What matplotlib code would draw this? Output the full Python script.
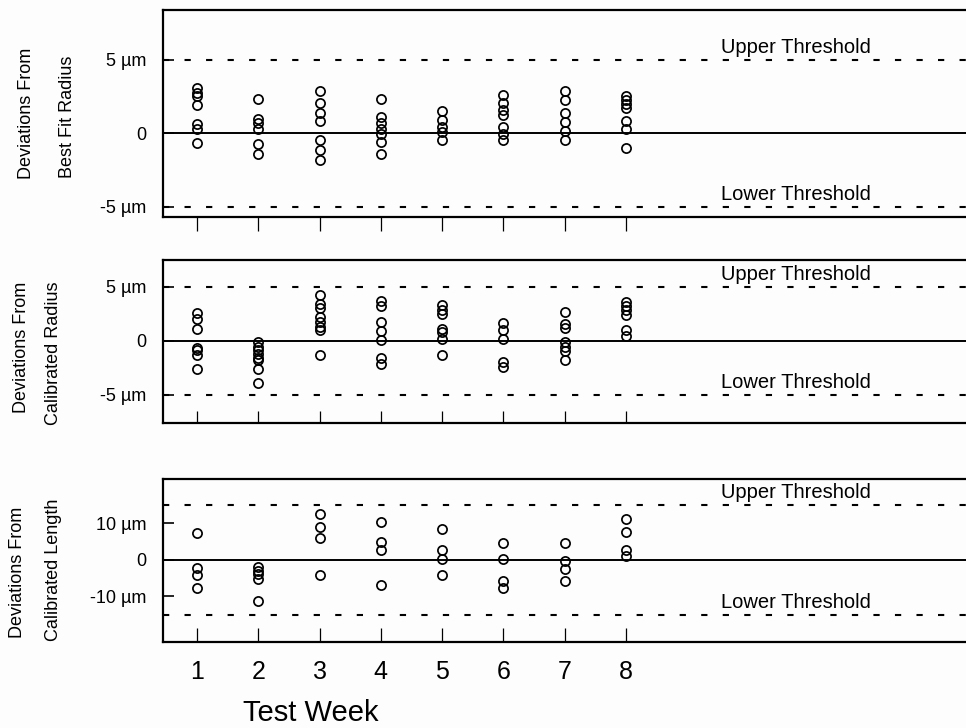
import matplotlib.pyplot as plt
import numpy as np

plt.rcParams["font.family"] = ["Liberation Sans", "DejaVu Sans"]
plt.rcParams["lines.scale_dashes"] = False

weeks = [1, 2, 3, 4, 5, 6, 7, 8]

# deviations from best fit radius (um), per week
best_fit = [
    [3.1, 2.7, 2.5, 1.95, 0.66, 0.32, -0.66],
    [2.33, 1.0, 0.7, 0.32, -0.75, -1.38],
    [2.88, 2.02, 1.34, 0.84, -0.48, -1.11, -1.79],
    [2.31, 1.07, 0.7, 0.32, -0.02, -0.59, -1.41],
    [1.52, 0.88, 0.43, 0.09, -0.48],
    [2.59, 2.02, 1.56, 1.22, 0.43, -0.02, -0.43],
    [2.88, 2.29, 1.34, 0.77, 0.16, -0.48],
    [2.52, 2.24, 1.97, 1.68, 0.84, 0.32, -1.0],
]

# deviations from calibrated radius (um)
cal_radius = [
    [2.6, 2.07, 1.08, -0.62, -0.86, -1.33, -2.56],
    [-0.1, -0.55, -0.86, -1.17, -1.54, -1.8, -2.56, -3.86],
    [4.29, 3.4, 3.09, 2.22, 1.76, 1.3, 0.99, -1.27],
    [3.67, 3.24, 1.76, 0.93, 0.12, -1.54, -2.1],
    [3.3, 2.9, 2.53, 1.14, 0.83, 0.22, -1.33],
    [1.67, 1.05, 0.22, -1.94, -2.4],
    [2.69, 1.54, 1.23, -0.1, -0.55, -0.93, -1.8],
    [3.6, 3.2, 2.84, 2.38, 0.99, 0.43],
]

# deviations from calibrated length (um)
cal_length = [
    [7.5, -2.3, -4.1, -7.8],
    [-2.0, -2.9, -3.8, -5.1, -11.3],
    [12.5, 8.9, 5.9, -4.1],
    [10.3, 5.0, 2.6, -6.8],
    [8.5, 2.7, 0.2, -4.1],
    [4.7, 0.3, -5.9, -7.8],
    [4.7, -0.2, -2.6, -5.7],
    [11.2, 7.7, 2.6, 1.1],
]

thresholds = [5, 5, 15]
ytick_vals = [[-5, 0, 5], [-5, 0, 5], [-10, 0, 10]]
ytick_text = [["-5 µm", "0", "5 µm"], ["-5 µm", "0", "5 µm"], ["-10 µm", "0", "10 µm"]]
ylabels = [
    ("Deviations From", "Best Fit Radius"),
    ("Deviations From", "Calibrated Radius"),
    ("Deviations From", "Calibrated Length"),
]
series = [best_fit, cal_radius, cal_length]

W, H = 966, 728
fig = plt.figure(figsize=(W / 100, H / 100), dpi=100)
fig.patch.set_facecolor("#fdfdfd")

# axes boxes in pixels: (top, bottom)
boxes = [(10, 217), (260, 423), (479, 642)]
ylims = [(-5.69, 8.37), (-7.6, 7.5), (-22.5, 22.2)]
ylab_x = [(27, 67), (22, 53), (18, 53)]
ylab_y = [(113, 117), (347, 353), (572, 570)]
left = 163

for i, (top, bot) in enumerate(boxes):
    ax = fig.add_axes([left / W, 1 - bot / H, 1 - left / W, (bot - top) / H])
    ax.set_facecolor("none")
    ax.set_xlim(0.445, 13.55)
    ax.set_ylim(*ylims[i])

    thr = thresholds[i]
    for t in (thr, -thr):
        ax.axhline(t, color="black", lw=1.5, ls=(0, (4.5, 11)))
    ax.axhline(0, color="black", lw=1.4)

    for w, vals in zip(weeks, series[i]):
        ax.plot(np.full(len(vals), w), vals, ls="none", marker="o", ms=6.6,
                mfc="none", mec="black", mew=1.25)

    ax.annotate("Upper Threshold", xy=(10.77, thr), xytext=(0, 2),
                textcoords="offset points", ha="center", va="bottom", fontsize=14.5)
    ax.annotate("Lower Threshold", xy=(10.77, -thr), xytext=(0, 2),
                textcoords="offset points", ha="center", va="bottom", fontsize=14.5)

    for side in ("left", "top", "bottom"):
        ax.spines[side].set_linewidth(1.6)
    ax.spines["right"].set_visible(False)

    ax.set_yticks(ytick_vals[i])
    ax.set_yticklabels(ytick_text[i], fontsize=13)
    ax.tick_params(axis="y", direction="in", length=8, width=1.2, pad=12)

    ax.set_xticks(weeks)
    if i == 0:
        ax.tick_params(axis="x", direction="out", length=10, width=0.9,
                       labelbottom=False)
    elif i == 1:
        ax.tick_params(axis="x", direction="in", length=9, width=0.9,
                       labelbottom=False)
    else:
        ax.set_xticklabels([str(w) for w in weeks], fontsize=18)
        ax.tick_params(axis="x", direction="in", length=10, width=0.9, pad=13)

    for (lx, ly, txt) in zip(ylab_x[i], ylab_y[i], ylabels[i]):
        fig.text(lx / W, 1 - ly / H, txt, rotation=90, ha="center", va="center",
                 fontsize=13)

fig.text(311 / W, 1 - 713 / H, "Test Week", ha="center", va="center", fontsize=21)

fig.savefig("out.png", dpi=100, facecolor=fig.get_facecolor())
